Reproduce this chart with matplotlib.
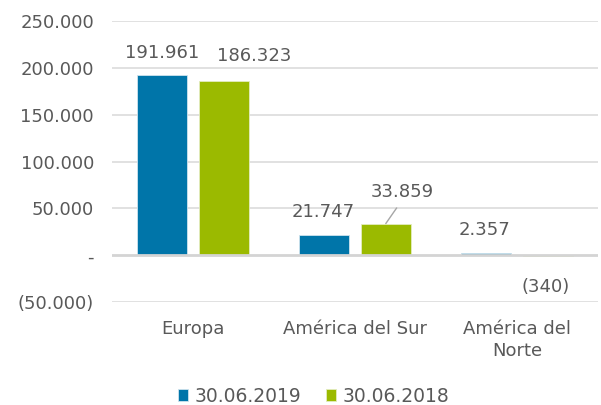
import matplotlib
matplotlib.use("Agg")
import matplotlib.pyplot as plt
import numpy as np

categories = ["Europa", "América del Sur", "América del\nNorte"]
series_names = ["30.06.2019", "30.06.2018"]
values_2019 = [191961, 21747, 2357]
values_2018 = [186323, 33859, -340]
yticks = [-50000, 0, 50000, 100000, 150000, 200000, 250000]

colors = ["#0075A9", "#9BBA00"]
text_color = "#595959"

def fmt(v):
    if v == 0:
        return "-"
    s = f"{abs(v):,}".replace(",", ".")
    return f"({s})" if v < 0 else s

plt.rcParams['font.family'] = ['DejaVu Sans']
fig = plt.figure(figsize=(6.01, 4.05), dpi=100)
ax = fig.add_axes([0.1864, 0.254, 0.8086, 0.694])

x = np.arange(len(categories))
w = 0.31
off = 0.19
b1 = ax.bar(x - off, values_2019, w, color=colors[0], edgecolor="#cfe3ee", linewidth=0.6, zorder=3, label=series_names[0])
b2 = ax.bar(x + off, values_2018, w, color=colors[1], edgecolor="#e3ecc0", linewidth=0.6, zorder=3, label=series_names[1])

ax.set_xlim(-0.5, 2.5)
ax.set_ylim(-50000, 250000)
ax.set_yticks(yticks)
ax.set_yticklabels([fmt(v) for v in yticks])
ax.set_xticks(x)
ax.set_xticklabels(categories, linespacing=1.25)

for v in yticks:
    if v == 0:
        ax.axhline(v, color="#D4D4D4", linewidth=2.0, zorder=4)
    else:
        ax.axhline(v, color="#D9D9D9", linewidth=1.1, zorder=1)

for s in ax.spines.values():
    s.set_visible(False)
fs = 13
ax.tick_params(axis='both', length=0, labelsize=fs, colors=text_color)
ax.tick_params(axis='y', pad=13)
ax.tick_params(axis='x', pad=13)

# labels
for i, v in enumerate(values_2019):
    ax.annotate(fmt(v), (x[i] - off, v), xytext=(-1 if i else 0, 16.5), textcoords="offset points",
                ha="center", va="center", fontsize=fs, color=text_color, zorder=5)
for i, v in enumerate(values_2018):
    if i == 0:
        ax.annotate(fmt(v), (x[i] + off, v), xytext=(22, 17.5), textcoords="offset points",
                    ha="center", va="center", fontsize=fs, color=text_color, zorder=5)
    elif i == 1:
        ax.annotate(fmt(v), (x[i] + off, v), xytext=(11.5, 23), textcoords="offset points",
                    ha="center", va="center", fontsize=fs, color=text_color, zorder=5,
                    arrowprops=dict(arrowstyle="-", color="#A6A6A6", lw=1.0,
                                    relpos=(0.5, 0.0), shrinkA=4, shrinkB=0))
    else:
        ax.annotate(fmt(v), (x[i] + off, 0), xytext=(-1.5, -22.5), textcoords="offset points",
                    ha="center", va="center", fontsize=fs, color=text_color, zorder=5)

leg = fig.legend(handles=[b1, b2], loc="center", bbox_to_anchor=(0.522, 0.022), ncol=2,
                 frameon=False, fontsize=13.5, handlelength=0.55, handleheight=0.55,
                 handletextpad=0.35, columnspacing=1.3, borderaxespad=0)
for t in leg.get_texts():
    t.set_color(text_color)

fig.savefig("out.png", dpi=100)
